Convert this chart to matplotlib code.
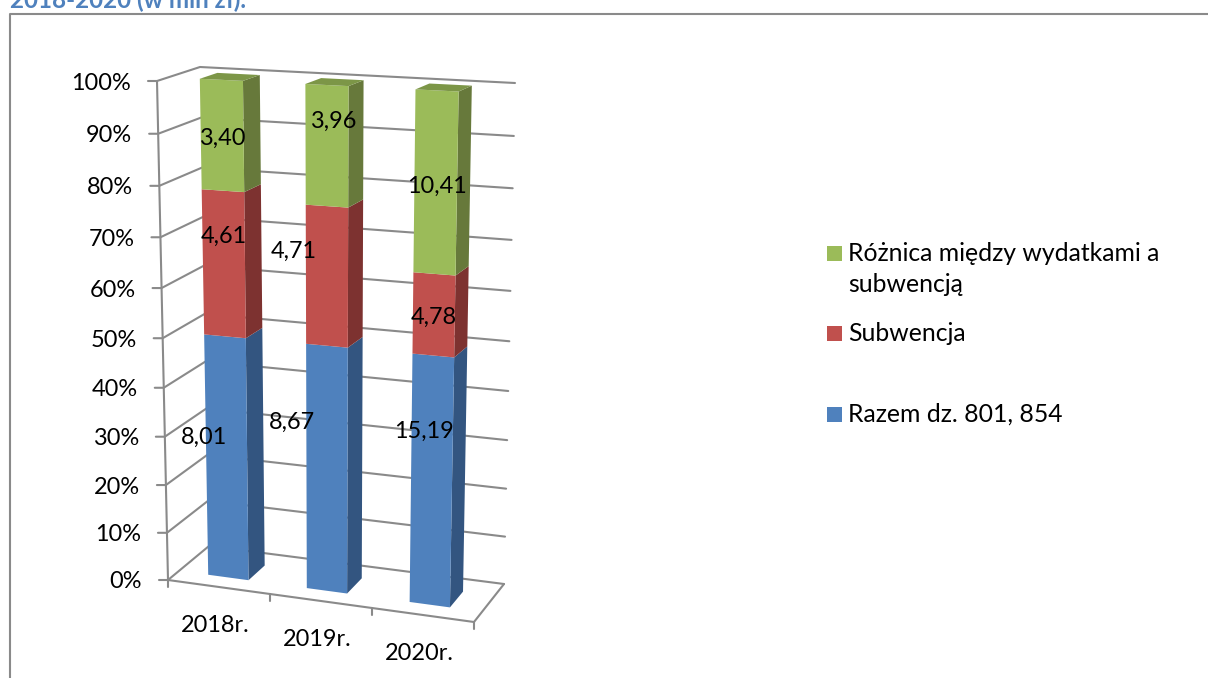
import numpy as np
import matplotlib
matplotlib.use("Agg")
import matplotlib.pyplot as plt
from matplotlib.patches import Polygon, Rectangle

# ---- data ----
categories = ["2018r.", "2019r.", "2020r."]
razem = [8.01, 8.67, 15.19]
subwencja = [4.61, 4.71, 4.78]
roznica = [3.40, 3.96, 10.41]
series_labels = ["Razem dz. 801, 854", "Subwencja", "Różnica między wydatkami a\nsubwencją"]
percent_ticks = [0, 10, 20, 30, 40, 50, 60, 70, 80, 90, 100]
title_text = "2018-2020 (w mln zł)."

# ---- styles / layout ----
plt.rcParams["font.family"] = ["Lato", "DejaVu Sans"]
GRID = "#8A8A8A"
TXT = "#000000"
FRONT = ["#4F81BD", "#C0504D", "#9BBB59"]
SIDE = ["#335580", "#7D3230", "#67793B"]
TOP = "#7C9647"
AXIS_FS = 16.9
LEGEND_FS = 17.8
# image-space corners of the 3D chart box
FL0, FR0, BL0, BR0 = map(np.array, [(168, 580), (474, 622), (209, 546), (504, 584)])
FL1, FR1, BL1, BR1 = map(np.array, [(157, 81), (485, 97), (200, 67), (515, 83)])
D0, D1 = 0.27, 0.69     # bar depth extent
BAR_W = 0.133           # bar width as a fraction of the floor width
bar_shift = [-0.004, -0.012, -0.006]
label_xy = [[(204, 437), (292, 422), (424, 431)],
            [(224, 236), (294, 251), (434, 317)],
            [(222, 138), (333, 121), (437, 186)]]


def persp(v):
    return 0.94 * v / (1 - 0.06 * v)


def P(u, v, d):
    """u along the categories, v value fraction, d depth; all in 0..1."""
    w = persp(v)
    f = (1 - u) * ((1 - w) * FL0 + w * FL1) + u * ((1 - w) * FR0 + w * FR1)
    b = (1 - u) * ((1 - w) * BL0 + w * BL1) + u * ((1 - w) * BR0 + w * BR1)
    return tuple((1 - d) * f + d * b)


fig = plt.figure(figsize=(12.08, 6.78), dpi=100, facecolor="white")
ax = fig.add_axes([0, 0, 1, 1])
ax.set_xlim(0, 1208)
ax.set_ylim(678, 0)
ax.axis("off")


def line(pts, z=1, lw=1.5):
    xs, ys = zip(*pts)
    ax.plot(xs, ys, color=GRID, lw=lw, zorder=z, solid_capstyle="round", solid_joinstyle="round")


# outer frame and heading, which the reference crop also cuts at its top edge
ax.plot([9.5, 9.5, 1208], [678, 13.5, 13.5], color=GRID, lw=1.5, zorder=1)
ax.text(10, 8.5, title_text, color="#4F81BD", fontsize=17.4, fontweight="bold", va="baseline", ha="left")

# walls, gridlines, value ticks
for t in percent_ticks:
    v = t / 100
    a = P(0, v, 0)
    line([(a[0] - 9, a[1]), a, P(0, v, 1), P(1, v, 1)])
    ax.text(a[0] - 26, a[1] + 2, f"{t}%", color=TXT, fontsize=AXIS_FS, ha="right", va="center")
line([P(0, 0, 0), P(0, 1, 0)])
line([P(0, 0, 0), P(1, 0, 0), P(1, 0, 1)])

# category ticks and labels
n = len(categories)
for i in range(n + 1):
    x, y = P(i / n, 0, 0)
    line([(x, y), (x, y + 7)])
for i, c in enumerate(categories):
    x, y = P((i + 0.5) / n, 0, 0)
    ax.text(x - 3.5, y + 38, c, color=TXT, fontsize=AXIS_FS, ha="center", va="center")

# stacked 100 % bars
stack = np.array([razem, subwencja, roznica], dtype=float)
share = stack / stack.sum(axis=0)
tops = np.cumsum(share, axis=0)
for i in range(n):
    uc = (i + 0.5) / n + bar_shift[i]
    ul, ur = uc - BAR_W / 2, uc + BAR_W / 2
    bottom = 0.0
    for s in range(3):
        top = tops[s, i]
        ax.add_patch(Polygon([P(ur, bottom, D0), P(ur, bottom, D1), P(ur, top, D1), P(ur, top, D0)],
                             closed=True, fc=SIDE[s], ec="none", zorder=3))
        ax.add_patch(Polygon([P(ul, bottom, D0), P(ur, bottom, D0), P(ur, top, D0), P(ul, top, D0)],
                             closed=True, fc=FRONT[s], ec="none", zorder=4))
        bottom = top
    ax.add_patch(Polygon([P(ul, 1, D0), P(ur, 1, D0), P(ur, 1, D1), P(ul, 1, D1)],
                         closed=True, fc=TOP, ec="none", zorder=4))

# data labels
for s, vals in enumerate([razem, subwencja, roznica]):
    for i, val in enumerate(vals):
        x, y = label_xy[s][i]
        ax.text(x, y, f"{val:.2f}".replace(".", ","), color=TXT, fontsize=AXIS_FS,
                ha="center", va="center", zorder=6)

# legend
legend_rows = [(2, 253.5, 848), (1, 333.5, 848), (0, 414.5, 848)]
for s, yc, tx in legend_rows:
    ax.add_patch(Rectangle((827, yc - 7.5), 15, 15, fc=FRONT[s], ec="none"))
    lines = series_labels[s].split("\n")
    for k, l in enumerate(lines):
        ax.text(tx, yc + k * 31, l, color=TXT, fontsize=LEGEND_FS, ha="left", va="center")

fig.savefig("out.png", dpi=100)
